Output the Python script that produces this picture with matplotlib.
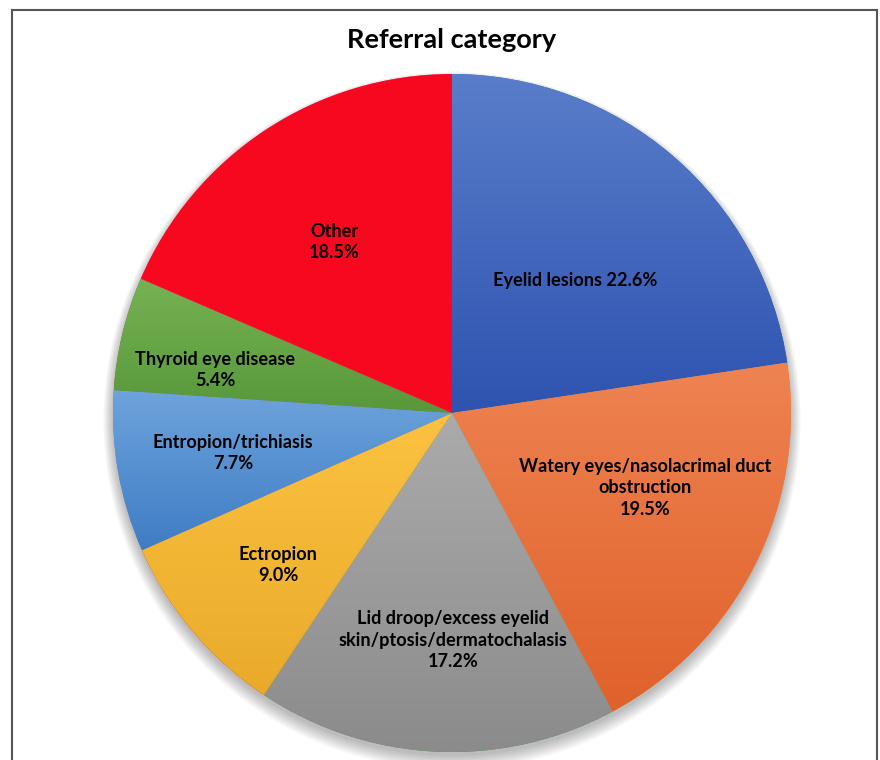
import numpy as np
import matplotlib
matplotlib.use('Agg')
import matplotlib.pyplot as plt
from matplotlib.lines import Line2D
from matplotlib.patches import Circle

#======== Data ========

categories = [
    'Eyelid lesions',
    'Watery eyes/nasolacrimal duct\nobstruction',
    'Lid droop/excess eyelid\nskin/ptosis/dermatochalasis',
    'Ectropion',
    'Entropion/trichiasis',
    'Thyroid eye disease',
    'Other',
]
shares = [22.6, 19.5, 17.2, 9.0, 7.7, 5.4, 18.5]

# label text joins name and percent on one line or a new line
joiners = [' ', '\n', '\n', '\n', '\n', '\n', '\n']

#======== Styles ========

# (top colour, bottom colour) for each slice gradient
gradients = [
    ('#5a7dca', '#2e53b0'),
    ('#ee8352', '#e0612a'),
    ('#ababab', '#8b8b8b'),
    ('#fbc240', '#e9aa2a'),
    ('#6ea4dc', '#3e7cc4'),
    ('#76b254', '#58983a'),
    ('#f8081e', '#f8081e'),
]

# label centres, in units of pie radius
label_xy = [
    (0.363, 0.392),
    (0.569, -0.221),
    (0.003, -0.670),
    (-0.513, -0.448),
    (-0.646, -0.118),
    (-0.699, 0.127),
    (-0.348, 0.504),
]

font = ['Lato', 'DejaVu Sans']
W, H = 880, 760
cx, cy, R = 452, 413, 339   # pie centre and radius in pixels

fig = plt.figure(figsize=(W / 100, H / 100), dpi=100)
ax = fig.add_axes([0, 0, 1, 1])

# soft drop shadow below the pie
for k in range(8):
    ax.add_patch(Circle((0, -0.012 - k * 0.0015), 1.0 + k * 0.004,
                        facecolor='#000000', alpha=0.035, lw=0, zorder=0))

wedges, _ = ax.pie(shares, startangle=90, counterclock=False, radius=1,
                   wedgeprops=dict(linewidth=0), frame=True)

for w, (top, bot) in zip(wedges, gradients):
    w.set_zorder(1)
    bb = w.get_path().get_extents()
    c0 = np.array(matplotlib.colors.to_rgb(top))
    c1 = np.array(matplotlib.colors.to_rgb(bot))
    t = np.linspace(0, 1, 256)[:, None]
    img = (c0 * (1 - t) + c1 * t)[:, None, :]
    im = ax.imshow(img, extent=[bb.x0, bb.x1, bb.y0, bb.y1], origin='upper',
                   aspect='auto', interpolation='bilinear', zorder=2)
    im.set_clip_path(w)

ax.set_xlim(-cx / R, (W - cx) / R)
ax.set_ylim(-(H - cy) / R, cy / R)
ax.set_aspect('equal')
ax.axis('off')

for name, j, val, (lx, ly) in zip(categories, joiners, shares, label_xy):
    ax.text(lx, ly, f'{name}{j}{val:.1f}%', ha='center', va='center',
            fontsize=13.1, fontweight='bold', family=font, color='black',
            linespacing=1.3, zorder=5)

fig.text(cx / W, 1 - 40 / H, 'Referral category', ha='center', va='center',
         fontsize=19.5, fontweight='bold', family=font)

# chart frame
frame_kw = dict(color='#555555', lw=1.5, transform=fig.transFigure)
fig.add_artist(Line2D([12 / W, 12 / W], [0, 1 - 10 / H], **frame_kw))
fig.add_artist(Line2D([12 / W, 877 / W], [1 - 10 / H, 1 - 10 / H], **frame_kw))
fig.add_artist(Line2D([877 / W, 877 / W], [0, 1 - 10 / H], **frame_kw))

fig.savefig('out.png', dpi=100, facecolor='white')
